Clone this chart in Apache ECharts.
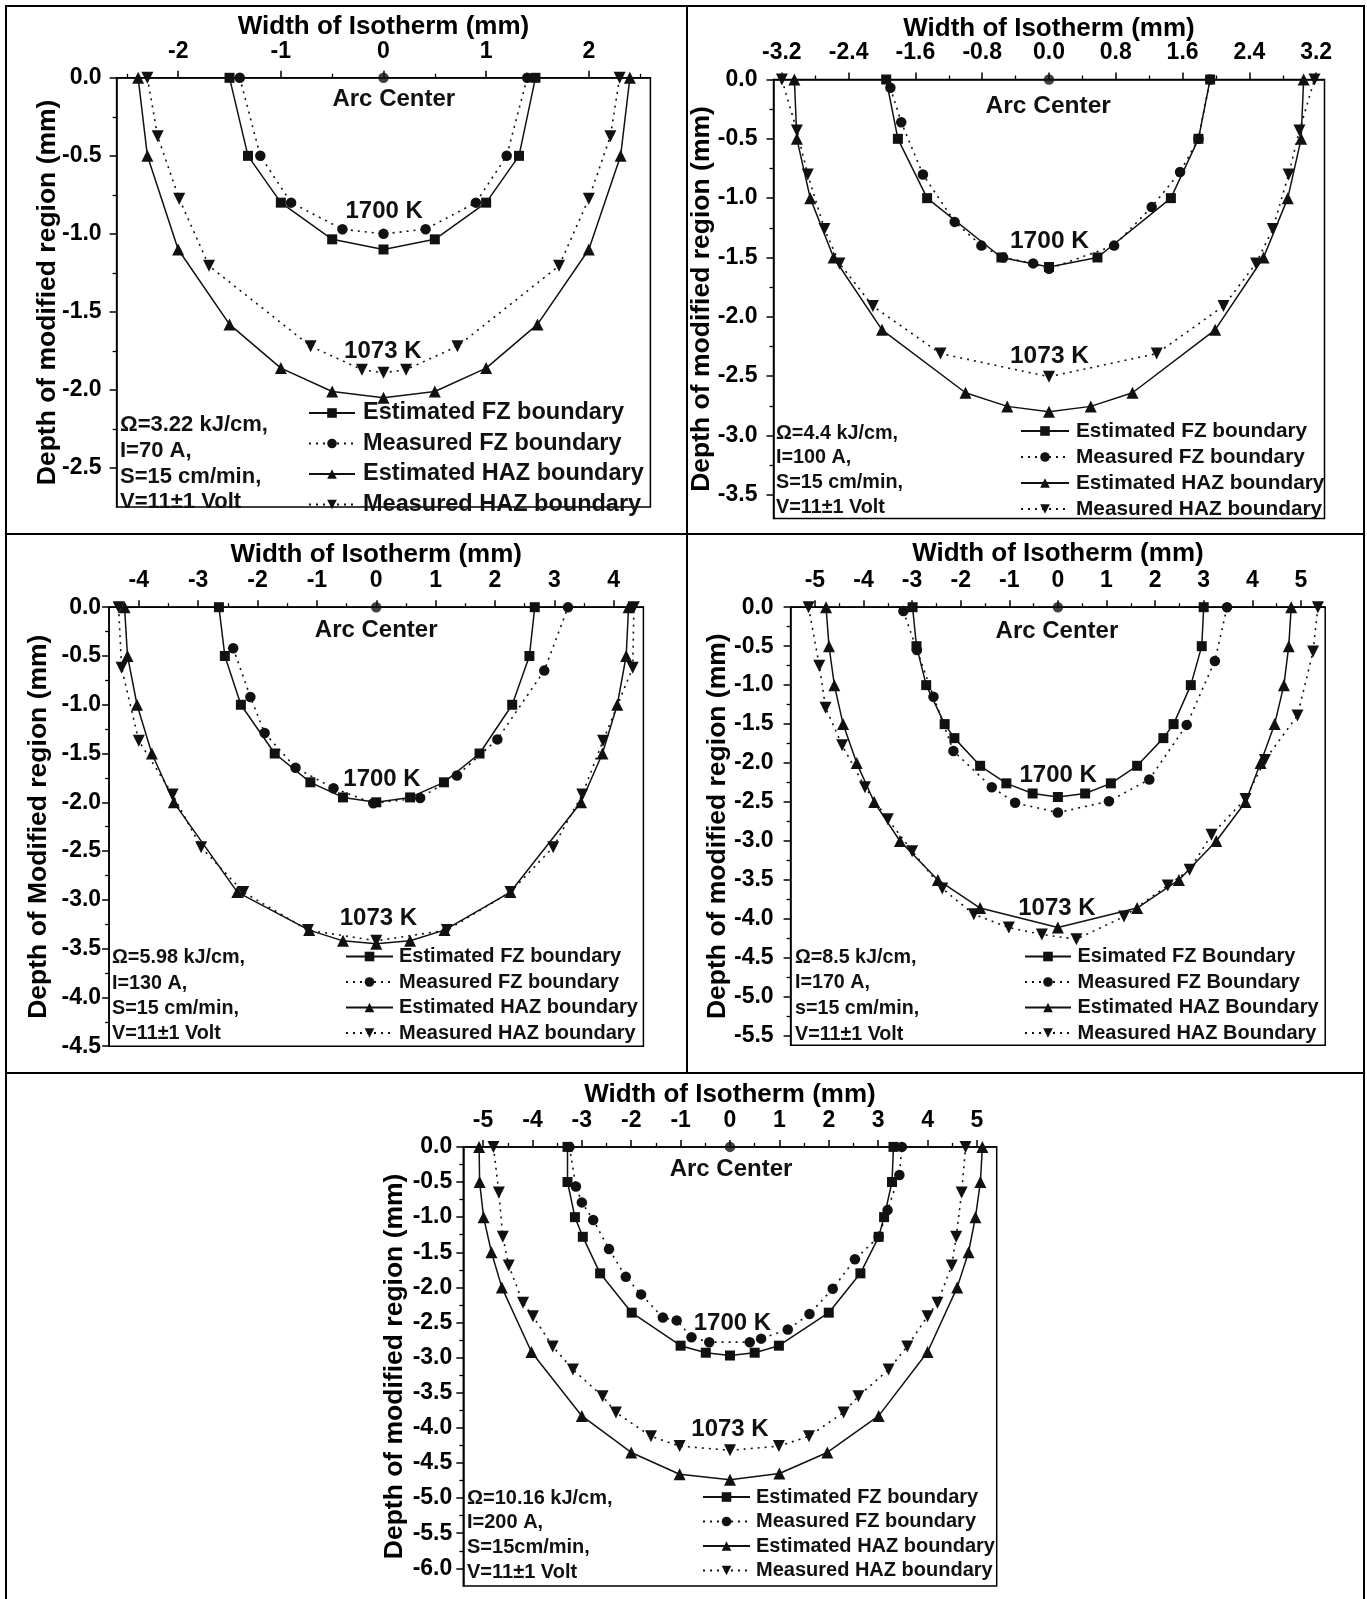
<!DOCTYPE html>
<html>
<head>
<meta charset="utf-8">
<title>Isotherm boundaries</title>
<script src="https://cdn.jsdelivr.net/npm/echarts@6/dist/echarts.min.js"></script>
<style>
  html, body { margin: 0; padding: 0; background: #fff; }
  #chart { width: 1367px; height: 1599px; }
</style>
</head>
<body>
<div id="chart"></div>
<script>
// ---------- text ----------
const xTitle = 'Width of Isotherm (mm)';
const yTitle = 'Depth of modified region (mm)';
const yTitleP3 = 'Depth of Modified region (mm)';
const seriesNames = ['Estimated FZ boundary', 'Measured FZ boundary', 'Estimated HAZ boundary', 'Measured HAZ boundary'];
const seriesNamesP4 = ['Esimated FZ Boundary', 'Measured FZ Boundary', 'Estimated HAZ Boundary', 'Measured HAZ Boundary'];
const isothermLabels = ['Arc Center', '1700 K', '1073 K'];

const p1Process = ['Ω=3.22 kJ/cm,', 'I=70 A,', 'S=15 cm/min,', 'V=11±1 Volt'];
const p2Process = ['Ω=4.4 kJ/cm,', 'I=100 A,', 'S=15 cm/min,', 'V=11±1 Volt'];
const p3Process = ['Ω=5.98 kJ/cm,', 'I=130 A,', 'S=15 cm/min,', 'V=11±1 Volt'];
const p4Process = ['Ω=8.5 kJ/cm,', 'I=170 A,', 's=15 cm/min,', 'V=11±1 Volt'];
const p5Process = ['Ω=10.16 kJ/cm,', 'I=200 A,', 'S=15cm/min,', 'V=11±1 Volt'];

// ---------- tick labels ----------
const p1XTicks = [-2, -1, 0, 1, 2];
const p1YTicks = [0, -0.5, -1, -1.5, -2, -2.5];
const p2XTicks = [-3.2, -2.4, -1.6, -0.8, 0, 0.8, 1.6, 2.4, 3.2];
const p2YTicks = [0, -0.5, -1, -1.5, -2, -2.5, -3, -3.5];
const p3XTicks = [-4, -3, -2, -1, 0, 1, 2, 3, 4];
const p3YTicks = [0, -0.5, -1, -1.5, -2, -2.5, -3, -3.5, -4, -4.5];
const p4XTicks = [-5, -4, -3, -2, -1, 0, 1, 2, 3, 4, 5];
const p4YTicks = [0, -0.5, -1, -1.5, -2, -2.5, -3, -3.5, -4, -4.5, -5, -5.5];
const p5XTicks = [-5, -4, -3, -2, -1, 0, 1, 2, 3, 4, 5];
const p5YTicks = [0, -0.5, -1, -1.5, -2, -2.5, -3, -3.5, -4, -4.5, -5, -5.5, -6];

// ---------- boundaries: [width (mm), depth (mm)] ----------
// 3.22 kJ/cm
const p1EstFZ = [[-1.50,0],[-1.32,-0.50],[-1.00,-0.80],[-0.50,-1.035],[0,-1.10],[0.50,-1.035],[1.00,-0.80],[1.32,-0.50],[1.48,0]];
const p1MeasFZ = [[-1.40,0],[-1.20,-0.50],[-0.90,-0.80],[-0.40,-0.97],[0,-1.00],[0.41,-0.97],[0.90,-0.80],[1.20,-0.50],[1.40,0]];
const p1EstHAZ = [[-2.39,0],[-2.30,-0.50],[-2.00,-1.10],[-1.50,-1.58],[-1.00,-1.86],[-0.50,-2.01],[0,-2.05],[0.50,-2.01],[1.00,-1.86],[1.50,-1.58],[2.00,-1.10],[2.31,-0.50],[2.40,0]];
const p1MeasHAZ = [[-2.30,0],[-2.20,-0.375],[-1.99,-0.775],[-1.70,-1.205],[-0.71,-1.72],[-0.21,-1.87],[0,-1.89],[0.22,-1.87],[0.72,-1.72],[1.71,-1.205],[2.00,-0.775],[2.21,-0.375],[2.30,0]];

// 4.4 kJ/cm
const p2EstFZ = [[-1.95,0],[-1.81,-0.50],[-1.46,-1.00],[-0.57,-1.50],[0,-1.58],[0.58,-1.50],[1.46,-1.00],[1.79,-0.50],[1.93,0]];
const p2MeasFZ = [[-1.90,-0.07],[-1.77,-0.36],[-1.51,-0.80],[-1.13,-1.20],[-0.81,-1.40],[-0.55,-1.50],[-0.19,-1.55],[0,-1.595],[0.78,-1.40],[1.23,-1.075],[1.57,-0.78],[1.79,-0.50],[1.93,0]];
const p2EstHAZ = [[-3.05,0],[-3.02,-0.50],[-2.86,-1.00],[-2.58,-1.50],[-2.00,-2.11],[-1.00,-2.64],[-0.50,-2.755],[0,-2.80],[0.50,-2.755],[1.00,-2.64],[1.99,-2.11],[2.57,-1.50],[2.86,-1.00],[3.02,-0.50],[3.05,0]];
const p2MeasHAZ = [[-3.20,0],[-3.02,-0.43],[-2.89,-0.80],[-2.69,-1.26],[-2.51,-1.55],[-2.11,-1.91],[-1.30,-2.31],[0,-2.505],[1.29,-2.31],[2.09,-1.91],[2.48,-1.55],[2.68,-1.26],[2.87,-0.80],[3.00,-0.43],[3.18,0]];

// 5.98 kJ/cm
const p3EstFZ = [[-2.65,0],[-2.55,-0.50],[-2.28,-1.00],[-1.71,-1.50],[-1.11,-1.795],[-0.56,-1.95],[0,-2.00],[0.57,-1.95],[1.14,-1.795],[1.74,-1.50],[2.29,-1.00],[2.58,-0.50],[2.67,0]];
const p3MeasFZ = [[-2.41,-0.42],[-2.12,-0.92],[-1.88,-1.29],[-1.36,-1.645],[-0.72,-1.855],[-0.05,-2.01],[0.74,-1.955],[1.36,-1.725],[2.04,-1.355],[2.83,-0.65],[3.23,0]];
const p3EstHAZ = [[-4.24,0],[-4.19,-0.50],[-4.03,-1.00],[-3.78,-1.50],[-3.41,-2.00],[-2.34,-2.92],[-1.13,-3.31],[-0.56,-3.42],[0,-3.45],[0.57,-3.42],[1.15,-3.31],[2.26,-2.92],[3.45,-2.00],[3.81,-1.50],[4.06,-1.00],[4.21,-0.50],[4.25,0]];
const p3MeasHAZ = [[-4.34,0],[-4.29,-0.62],[-4.00,-1.37],[-3.43,-1.92],[-2.95,-2.46],[-2.24,-2.92],[-1.15,-3.31],[0,-3.42],[1.19,-3.31],[2.26,-2.92],[2.98,-2.46],[3.47,-1.92],[3.82,-1.37],[4.32,-0.62],[4.34,0]];

// 8.5 kJ/cm
const p4EstFZ = [[-2.99,0],[-2.91,-0.50],[-2.71,-1.00],[-2.33,-1.50],[-2.13,-1.68],[-1.60,-2.035],[-1.06,-2.26],[-0.52,-2.39],[0,-2.435],[0.56,-2.39],[1.09,-2.26],[1.63,-2.035],[2.17,-1.68],[2.38,-1.50],[2.735,-1.00],[2.96,-0.50],[3.00,0]];
const p4MeasFZ = [[-3.18,-0.05],[-2.90,-0.55],[-2.56,-1.15],[-2.15,-1.845],[-1.36,-2.31],[-0.88,-2.51],[0,-2.635],[1.05,-2.49],[1.88,-2.21],[2.65,-1.51],[3.23,-0.69],[3.48,0]];
const p4EstHAZ = [[-4.77,0],[-4.71,-0.50],[-4.60,-1.00],[-4.42,-1.50],[-4.14,-2.00],[-3.78,-2.50],[-3.25,-3.00],[-2.47,-3.50],[-1.60,-3.86],[0,-4.11],[1.63,-3.86],[2.49,-3.50],[3.26,-3.00],[3.86,-2.50],[4.17,-2.00],[4.46,-1.50],[4.65,-1.00],[4.75,-0.50],[4.80,0]];
const p4MeasHAZ = [[-5.13,0],[-4.91,-0.75],[-4.78,-1.29],[-4.44,-1.77],[-3.97,-2.31],[-3.50,-2.72],[-3.00,-3.13],[-2.38,-3.61],[-1.73,-3.94],[-1.01,-4.11],[-0.33,-4.20],[0.38,-4.26],[1.36,-3.97],[2.26,-3.57],[2.71,-3.37],[3.16,-2.92],[3.86,-2.46],[4.26,-1.96],[4.93,-1.39],[5.25,-0.57],[5.35,0]];

// 10.16 kJ/cm
const p5EstFZ = [[-3.29,0],[-3.29,-0.50],[-3.14,-1.00],[-2.98,-1.28],[-2.63,-1.80],[-1.99,-2.36],[-1.00,-2.83],[-0.49,-2.93],[0,-2.97],[0.50,-2.93],[0.99,-2.83],[2.00,-2.36],[2.64,-1.80],[3.01,-1.28],[3.12,-1.00],[3.28,-0.50],[3.31,0]];
const p5MeasFZ = [[-3.25,0],[-3.12,-0.565],[-3.00,-0.79],[-2.77,-1.04],[-2.45,-1.455],[-2.11,-1.85],[-1.80,-2.10],[-1.36,-2.43],[-1.08,-2.47],[-0.78,-2.71],[-0.42,-2.78],[0.40,-2.78],[0.63,-2.73],[1.17,-2.60],[1.61,-2.38],[2.08,-2.02],[2.53,-1.60],[3.01,-1.28],[3.19,-0.90],[3.43,-0.40],[3.48,0]];
const p5EstHAZ = [[-5.08,0],[-5.07,-0.50],[-4.99,-1.00],[-4.83,-1.50],[-4.62,-2.00],[-4.02,-2.92],[-3.00,-3.83],[-2.00,-4.35],[-1.02,-4.66],[0,-4.74],[1.00,-4.65],[1.97,-4.35],[3.01,-3.83],[4.00,-2.92],[4.60,-2.00],[4.83,-1.50],[4.97,-1.00],[5.07,-0.50],[5.11,0]];
const p5MeasHAZ = [[-4.79,0],[-4.68,-0.65],[-4.60,-1.28],[-4.48,-1.69],[-4.19,-2.22],[-3.99,-2.41],[-3.59,-2.84],[-3.18,-3.17],[-2.58,-3.55],[-2.31,-3.78],[-1.60,-4.12],[-1.02,-4.26],[0,-4.32],[0.99,-4.26],[1.60,-4.12],[2.30,-3.78],[2.60,-3.55],[3.21,-3.17],[3.59,-2.84],[4.00,-2.41],[4.20,-2.22],[4.49,-1.69],[4.58,-1.28],[4.69,-0.65],[4.77,0]];

// arc centre marker on the surface
const arcCenter = [[0, 0]];

// ---------- layout ----------
const FONT = '"Liberation Sans", Arial, Helvetica, sans-serif';
const INK = '#000';

const panels = [
  { grid: { left: 116.6, top: 77.8, width: 533.8, height: 429.2 },
    x: { min: -2.6, max: 2.6, minorStep: 0.5, ticks: p1XTicks, digits: 0 },
    y: { min: -2.75, max: 0, minorStep: 0.25, ticks: p1YTicks },
    data: [p1EstFZ, p1MeasFZ, p1EstHAZ, p1MeasHAZ], names: seriesNames, yName: yTitle,
    xNameGap: 38, yNameGap: 55, yLabelMargin: 15,
    legend: { left: 308, top: 401, gap: 6.5, size: 23.5, itemWidth: 46, textPad: 3 },
    marks: { size: 24, pos: [[393.8, 98.9], [384.2, 211.5], [382.8, 351.4]] },
    note: { lines: p1Process, x: 120, ys: [424.5, 451.2, 476.8, 502.4], size: 22 } },
  { grid: { left: 773.5, top: 79.5, width: 551, height: 439 },
    x: { min: -3.3, max: 3.3, minorStep: 0.4, ticks: p2XTicks, digits: 1 },
    y: { min: -3.7, max: 0, minorStep: 0.25, ticks: p2YTicks },
    data: [p2EstFZ, p2MeasFZ, p2EstHAZ, p2MeasHAZ], names: seriesNames, yName: yTitle,
    xNameGap: 38, yNameGap: 58, yLabelMargin: 16,
    legend: { left: 1020, top: 420.5, gap: 5, size: 20.8, itemWidth: 48, textPad: 2 },
    marks: { size: 24.5, pos: [[1048.2, 106.5], [1049.5, 241.6], [1049.5, 356.6]] },
    note: { lines: p2Process, x: 776, ys: [434, 458, 483, 507.7], size: 19.8 } },
  { grid: { left: 109.1, top: 607.2, width: 534.3, height: 439 },
    x: { min: -4.5, max: 4.5, minorStep: 0.5, ticks: p3XTicks, digits: 0 },
    y: { min: -4.5, max: 0, minorStep: 0.25, ticks: p3YTicks },
    data: [p3EstFZ, p3MeasFZ, p3EstHAZ, p3MeasHAZ], names: seriesNames, yName: yTitleP3,
    xNameGap: 39, yNameGap: 57, yLabelMargin: 8,
    legend: { left: 345, top: 946.5, gap: 5.5, size: 20, itemWidth: 47, textPad: 1 },
    marks: { size: 24, pos: [[376.2, 630.8], [382, 779.6], [378.4, 918.6]] },
    note: { lines: p3Process, x: 112, ys: [957.8, 983.6, 1009, 1034], size: 19.8 } },
  { grid: { left: 790.6, top: 607.2, width: 534.6, height: 438 },
    x: { min: -5.5, max: 5.5, minorStep: 0.5, ticks: p4XTicks, digits: 0 },
    y: { min: -5.62, max: 0, minorStep: 0.25, ticks: p4YTicks },
    data: [p4EstFZ, p4MeasFZ, p4EstHAZ, p4MeasHAZ], names: seriesNamesP4, yName: yTitle,
    xNameGap: 40, yNameGap: 59, yLabelMargin: 17,
    legend: { left: 1024, top: 946.5, gap: 5.5, size: 20, itemWidth: 46, textPad: 1.5 },
    marks: { size: 24, pos: [[1056.9, 631.5], [1058.2, 775], [1056.9, 908.2]] },
    note: { lines: p4Process, x: 795, ys: [957.8, 983, 1008.5, 1035], size: 19.7 } },
  { grid: { left: 463.3, top: 1146.9, width: 533.4, height: 439 },
    x: { min: -5.4, max: 5.4, minorStep: 0.5, ticks: p5XTicks, digits: 0 },
    y: { min: -6.25, max: 0, minorStep: 0.25, ticks: p5YTicks },
    data: [p5EstFZ, p5MeasFZ, p5EstHAZ, p5MeasHAZ], names: seriesNames, yName: yTitle,
    xNameGap: 39, yNameGap: 55, yLabelMargin: 11,
    legend: { left: 702, top: 1487, gap: 4.5, size: 20, itemWidth: 47, textPad: 1 },
    marks: { size: 24, pos: [[731, 1169.5], [732.4, 1323.7], [730, 1429.3]] },
    note: { lines: p5Process, x: 467, ys: [1498, 1522.5, 1547, 1572], size: 20 } }
];

// marker + line look of the four boundary kinds
const kinds = [
  { symbol: 'rect', size: 10, rotate: 0, dash: 'solid' },
  { symbol: 'circle', size: 10.5, rotate: 0, dash: [2, 5] },
  { symbol: 'triangle', size: 12, rotate: 0, dash: 'solid' },
  { symbol: 'triangle', size: 12, rotate: 180, dash: [2, 5] }
];

function minorTicks(min, max, step, majors) {
  const out = [];
  const k0 = Math.ceil(min / step - 1e-9), k1 = Math.floor(max / step + 1e-9);
  for (let k = k0; k <= k1; k++) {
    const v = +(k * step).toFixed(4);
    if (Math.abs(v - min) < 1e-6 || Math.abs(v - max) < 1e-6) continue;
    if (majors.some(m => Math.abs(m - v) < 1e-6)) continue;
    out.push(v);
  }
  return out;
}

const labelFont = { fontFamily: FONT, fontWeight: 'bold', color: INK };
const grids = [], xAxes = [], yAxes = [], series = [], legends = [], graphics = [];

panels.forEach((p, i) => {
  grids.push(Object.assign({ show: true, borderColor: INK, borderWidth: 1.5, backgroundColor: 'transparent',
    containLabel: false, outerBoundsMode: 'none' }, p.grid));

  // main x axis (labels, major ticks, title)
  xAxes.push({
    type: 'value', gridIndex: i, position: 'top', min: p.x.min, max: p.x.max,
    name: xTitle, nameLocation: 'middle', nameGap: p.xNameGap, nameMoveOverlap: false,
    nameTextStyle: Object.assign({ fontSize: 26 }, labelFont),
    axisLine: { show: true, onZero: false, lineStyle: { color: INK, width: 1.5 } },
    axisTick: { show: true, inside: false, length: 7, customValues: p.x.ticks, lineStyle: { color: INK, width: 1.5 } },
    axisLabel: Object.assign({ fontSize: 23, margin: 15, customValues: p.x.ticks,
      formatter: v => Number(v).toFixed(p.x.digits) }, labelFont),
    splitLine: { show: false }
  });
  // companion x axis carrying the minor ticks
  xAxes.push({
    type: 'value', gridIndex: i, position: 'top', min: p.x.min, max: p.x.max,
    axisLine: { show: false, onZero: false },
    axisTick: { show: true, inside: false, length: 4, customValues: minorTicks(p.x.min, p.x.max, p.x.minorStep, p.x.ticks),
      lineStyle: { color: INK, width: 1.3 } },
    axisLabel: { show: false }, splitLine: { show: false }
  });
  // main y axis
  yAxes.push({
    type: 'value', gridIndex: i, position: 'left', min: p.y.min, max: p.y.max,
    name: p.yName, nameLocation: 'middle', nameGap: p.yNameGap, nameRotate: 90, nameMoveOverlap: false,
    nameTextStyle: Object.assign({ fontSize: 26.5 }, labelFont),
    axisLine: { show: true, onZero: false, lineStyle: { color: INK, width: 1.5 } },
    axisTick: { show: true, inside: false, length: 7, customValues: p.y.ticks, lineStyle: { color: INK, width: 1.5 } },
    axisLabel: Object.assign({ fontSize: 23, margin: p.yLabelMargin, customValues: p.y.ticks,
      formatter: v => Number(v).toFixed(1) }, labelFont),
    splitLine: { show: false }
  });
  // companion y axis carrying the minor ticks
  yAxes.push({
    type: 'value', gridIndex: i, position: 'left', min: p.y.min, max: p.y.max,
    axisLine: { show: false, onZero: false },
    axisTick: { show: true, inside: false, length: 4, customValues: minorTicks(p.y.min, p.y.max, p.y.minorStep, p.y.ticks),
      lineStyle: { color: INK, width: 1.3 } },
    axisLabel: { show: false }, splitLine: { show: false }
  });

  const xi = i * 2, yi = i * 2;
  p.data.forEach((pts, k) => {
    const kd = kinds[k];
    series.push({
      type: 'line', name: p.names[k], xAxisIndex: xi, yAxisIndex: yi, data: pts,
      symbol: kd.symbol, symbolSize: kd.size, symbolRotate: kd.rotate, showSymbol: true,
      clip: false, smooth: false, z: 3,
      lineStyle: { color: '#111', width: kd.dash === 'solid' ? 1.5 : 1.6, type: kd.dash },
      itemStyle: { color: '#111', borderWidth: 0 },
      emphasis: { disabled: true }
    });
  });
  series.push({
    type: 'scatter', name: 'arc-center', xAxisIndex: xi, yAxisIndex: yi, data: arcCenter,
    symbol: 'circle', symbolSize: 10.5, clip: false, z: 4, itemStyle: { color: '#111' }, emphasis: { disabled: true }
  });

  legends.push({
    orient: 'vertical', left: p.legend.left, top: p.legend.top, padding: 0,
    itemWidth: p.legend.itemWidth, itemHeight: 12, itemGap: p.legend.gap,
    selectedMode: false, data: p.names,
    textStyle: { fontSize: p.legend.size, fontWeight: 'bold', fontFamily: FONT, color: '#111',
      padding: [0, 0, 0, p.legend.textPad] }
  });

  isothermLabels.forEach((t, k) => {
    const [x, y] = p.marks.pos[k];
    graphics.push({
      type: 'text', x: x, y: y, z: 10,
      style: { text: t, font: 'bold ' + p.marks.size + 'px ' + FONT, fill: '#111',
        textAlign: 'center', textVerticalAlign: 'middle', align: 'center', verticalAlign: 'middle' }
    });
  });
  p.note.lines.forEach((t, k) => {
    graphics.push({
      type: 'text', x: p.note.x, y: p.note.ys[k], z: 10,
      style: { text: t, font: 'bold ' + p.note.size + 'px ' + FONT, fill: '#111',
        textAlign: 'left', textVerticalAlign: 'middle', align: 'left', verticalAlign: 'middle' }
    });
  });
});

// figure frame and panel dividers
graphics.push(
  { type: 'rect', z: 20, shape: { x: 6, y: 6, width: 1358, height: 1640 }, style: { fill: null, stroke: INK, lineWidth: 2 } },
  { type: 'line', z: 20, shape: { x1: 6, y1: 534, x2: 1364, y2: 534 }, style: { stroke: INK, lineWidth: 2 } },
  { type: 'line', z: 20, shape: { x1: 6, y1: 1073, x2: 1364, y2: 1073 }, style: { stroke: INK, lineWidth: 2 } },
  { type: 'line', z: 20, shape: { x1: 687, y1: 6, x2: 687, y2: 1073 }, style: { stroke: INK, lineWidth: 2 } }
);

const chart = echarts.init(document.getElementById('chart'), null, { renderer: 'canvas' });
chart.setOption({
  animation: false,
  backgroundColor: '#fff',
  textStyle: { fontFamily: FONT },
  grid: grids,
  xAxis: xAxes,
  yAxis: yAxes,
  legend: legends,
  series: series,
  graphic: { elements: graphics }
});
</script>
</body>
</html>
